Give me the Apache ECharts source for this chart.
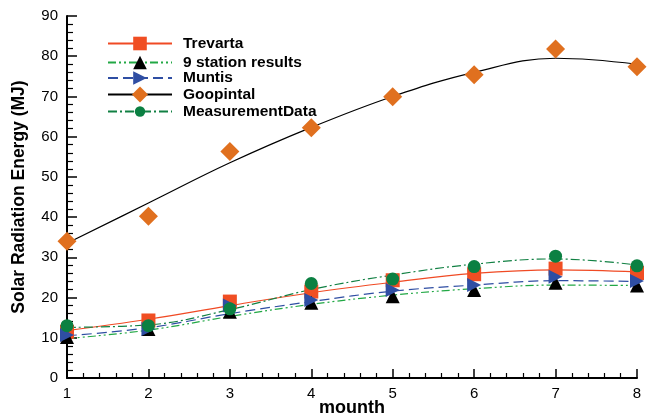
<!DOCTYPE html>
<html>
<head>
<meta charset="utf-8">
<script src="https://cdn.jsdelivr.net/npm/echarts@6/dist/echarts.min.js"></script>
<style>
html, body { margin: 0; padding: 0; background: #fff; }
#chart { width: 649px; height: 418px; }
</style>
</head>
<body>
<div id="chart"></div>
<script>
// months on the x axis
let months = [1, 2, 3, 4, 5, 6, 7, 8];

// measured / model points
let trevartaPts = [11.5, 14.3, 19.0, 21.5, 24.3, 25.8, 27.2, 26.1];
let stationPts = [10.2, 12.2, 16.5, 18.7, 20.3, 21.9, 23.7, 23.0];
let muntisPts = [10.7, 12.2, 18.0, 19.4, 21.9, 23.1, 25.2, 24.1];
let goopintalPts = [34.0, 40.2, 56.3, 62.2, 69.9, 75.4, 81.8, 77.4];
let measuredPts = [13.0, 13.0, 17.2, 23.5, 24.6, 27.7, 30.3, 27.9];

// fitted curves
let trevartaFit = [11.8, 14.6, 18.0, 21.2, 23.8, 26.0, 26.9, 26.4];
let stationFit = [9.8, 11.9, 15.3, 18.3, 20.6, 22.2, 23.1, 23.0];
let muntisFit = [10.5, 12.5, 16.0, 19.0, 21.6, 23.1, 24.2, 24.0];
let goopintalFit = [33.5, 43.5, 53.5, 62.3, 70.0, 76.0, 79.5, 78.0];
let measuredFit = [12.6, 13.2, 17.0, 22.0, 25.6, 28.3, 29.6, 28.1];

let names = ['Trevarta', '9 station results', 'Muntis', 'Goopintal', 'MeasurementData'];

function pairs(vals) {
    return months.map(function (m, i) { return [m, vals[i]]; });
}

let rightTri = 'path://M0,0 L10,5 L0,10 Z';

// legH: legend row height, the legend symbol is drawn at 80% of it
let styles = [
    {line: '#f04a24', type: 'solid', mark: '#f04e23', symbol: 'rect', size: 14, legH: 17, legY: 44},
    {line: '#22a845', type: [8, 3, 2, 3, 2, 3], mark: '#000000', symbol: 'triangle', size: 14, legH: 17, legY: 63},
    {line: '#2f4ea3', type: [10, 5], mark: '#2f4ea3', symbol: rightTri, size: 14, legH: 17, legY: 78.5},
    {line: '#000000', type: 'solid', mark: '#e0701f', symbol: 'diamond', size: 19, legH: 20, legY: 96.5},
    {line: '#118043', type: [9, 3, 2, 3], mark: '#0b8042', symbol: 'circle', size: 13, legH: 13, legY: 110}
];
let fits = [trevartaFit, stationFit, muntisFit, goopintalFit, measuredFit];
let pts = [trevartaPts, stationPts, muntisPts, goopintalPts, measuredPts];

let series = [];
let legends = [];
names.forEach(function (n, i) {
    let s = styles[i];
    series.push({
        name: n,
        type: 'line',
        smooth: 0.4,
        symbol: s.symbol,
        showSymbol: false,
        itemStyle: {color: s.mark},
        lineStyle: {color: s.line, width: 1.2, type: s.type},
        data: pairs(fits[i]),
        z: 2
    });
    legends.push({
        data: [n],
        left: 107,
        top: s.legY - s.legH / 2,
        padding: 0,
        itemWidth: 64,
        itemHeight: s.legH,
        textStyle: {fontSize: 15.5, fontWeight: 'bold', color: '#000', padding: [0, 0, 0, 6]}
    });
});
// draw order of markers: squares, black triangles, diamonds, blue triangles, circles
[0, 1, 3, 2, 4].forEach(function (i) {
    let s = styles[i];
    series.push({
        name: names[i],
        type: 'scatter',
        symbol: s.symbol,
        symbolSize: s.size,
        itemStyle: {color: s.mark, opacity: 1},
        data: pairs(pts[i]),
        z: 3 + i
    });
});

let myChart = echarts.init(document.getElementById('chart'));
let option = {
    backgroundColor: '#ffffff',
    animation: false,
    textStyle: {fontFamily: 'Liberation Sans'},
    grid: {left: 67, right: 12, top: 16, bottom: 40, outerBoundsMode: 'none', containLabel: false},
    legend: legends,
    xAxis: {
        type: 'value',
        min: 1,
        max: 8,
        interval: 1,
        name: 'mounth',
        nameLocation: 'middle',
        nameGap: 21,
        nameMoveOverlap: false,
        nameTextStyle: {fontSize: 18, fontWeight: 'bold', color: '#000'},
        axisLine: {show: true, lineStyle: {color: '#000', width: 2}},
        axisTick: {show: true, inside: true, length: 9, lineStyle: {color: '#000', width: 1.5}},
        minorTick: {show: true, splitNumber: 5, length: 5, lineStyle: {color: '#000', width: 1.2}},
        axisLabel: {fontSize: 15, color: '#000', margin: 8},
        splitLine: {show: false}
    },
    yAxis: {
        type: 'value',
        min: 0,
        max: 90,
        interval: 10,
        name: 'Solar Radiation Energy (MJ)',
        nameLocation: 'middle',
        nameGap: 39,
        nameMoveOverlap: false,
        nameTextStyle: {fontSize: 17.5, fontWeight: 'bold', color: '#000'},
        axisLine: {show: true, lineStyle: {color: '#000', width: 2}},
        axisTick: {show: true, inside: true, length: 10, lineStyle: {color: '#000', width: 1.5}},
        minorTick: {show: true, splitNumber: 5, length: 6, lineStyle: {color: '#000', width: 1.2}},
        axisLabel: {fontSize: 15, color: '#000', margin: 9},
        splitLine: {show: false}
    },
    series: series
};
myChart.setOption(option);
</script>
</body>
</html>
